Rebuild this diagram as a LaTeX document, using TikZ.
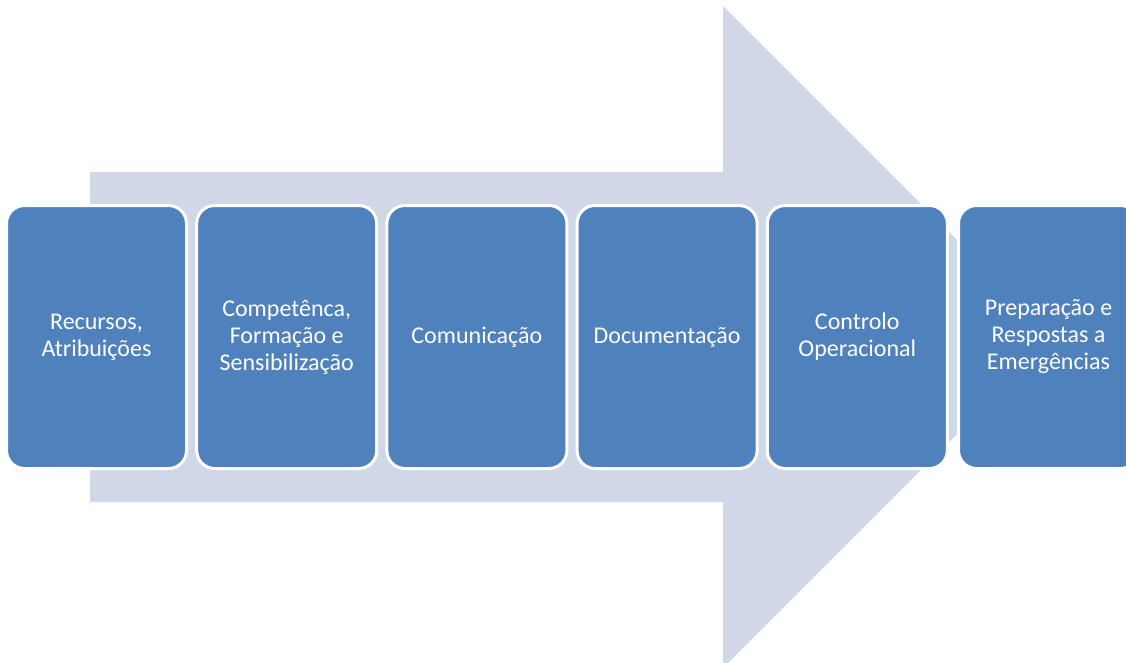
\documentclass[tikz,border=0pt]{standalone}
\usepackage{fontspec}
\setmainfont{Carlito}
\usepackage{tikz}
\usetikzlibrary{shapes, calc}
\definecolor{boxblue}{HTML}{4F81BD}
\definecolor{arrowgrey}{HTML}{D0D8E8}

\begin{document}
\begin{tikzpicture}[x=1pt, y=-1pt,
  step box/.style={
    align=center,
    rectangle,
    rounded corners=18pt,
    draw=white,
    line width=3pt,
    fill=boxblue,
    text=white,
    font=\fontsize{24}{27}\selectfont,
    minimum width=180pt,
    minimum height=263pt,
    inner sep=2pt
  },
  bigarrow/.style={
    fill=arrowgrey
  }
  ]

  \pgfmathsetmacro{\yb}{337}
  \pgfmathsetmacro{\dx}{190.2}

  \useasboundingbox (0,0) rectangle (1126,663);
  \clip (0,0) rectangle (1126,663);

  % background arrow
  \fill [bigarrow] (90,172) -- (723,172) -- (723,6) -- (1054,\yb) --
  (723,668) -- (723,502) -- (90,502) -- cycle;

  \node [step box] (recursos) at (96.5,\yb) {Recursos,\\Atribuições};
  \node [step box] (competencia) at (96.5+\dx,\yb) {Competênca,\\Formação e\\Sensibilização};
  \node [step box] (comunicacao) at (96.5+2*\dx,\yb) {Comunicação};
  \node [step box] (documentacao) at (96.5+3*\dx,\yb) {Documentação};
  \node [step box] (controlo) at (96.5+4*\dx,\yb) {Controlo\\Operacional};
  \node [step box] (emergencia) at (1048.5,\yb) {Preparação e\\Respostas a\\Emergências};

\end{tikzpicture}
\end{document}
